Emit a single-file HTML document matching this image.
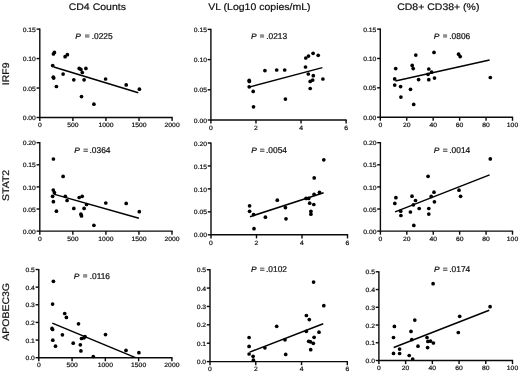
<!DOCTYPE html><html><head><meta charset="utf-8"><style>html,body{margin:0;padding:0;background:#fff;}svg{display:block;will-change:transform;filter:blur(0.3px);}text{font-family:"Liberation Sans", sans-serif;text-rendering:geometricPrecision;stroke:#111;stroke-width:0.22px;}</style></head><body>
<svg width="520" height="373" viewBox="0 0 520 373">
<rect width="520" height="373" fill="#fff"/>
<path d="M39.8 28.5V117.5H172.7" fill="none" stroke="#0a0a0a" stroke-width="1.4"/>
<path d="M36.6 29.1H39.8" stroke="#0a0a0a" stroke-width="1.4"/>
<text transform="translate(35.9 31.7) scale(1 0.92)" font-size="6.8" text-anchor="end" fill="#111">0.15</text>
<path d="M36.6 58.57H39.8" stroke="#0a0a0a" stroke-width="1.4"/>
<text transform="translate(35.9 61.17) scale(1 0.92)" font-size="6.8" text-anchor="end" fill="#111">0.10</text>
<path d="M36.6 88.03H39.8" stroke="#0a0a0a" stroke-width="1.4"/>
<text transform="translate(35.9 90.63) scale(1 0.92)" font-size="6.8" text-anchor="end" fill="#111">0.05</text>
<path d="M36.6 117.5H39.8" stroke="#0a0a0a" stroke-width="1.4"/>
<text transform="translate(35.9 120.1) scale(1 0.92)" font-size="6.8" text-anchor="end" fill="#111">0.00</text>
<path d="M39.8 117.5V121.1" stroke="#0a0a0a" stroke-width="1.4"/>
<text transform="translate(39.8 127.2) scale(1 0.92)" font-size="6.8" text-anchor="middle" fill="#111">0</text>
<path d="M72.88 117.5V121.1" stroke="#0a0a0a" stroke-width="1.4"/>
<text transform="translate(72.88 127.2) scale(1 0.92)" font-size="6.8" text-anchor="middle" fill="#111">500</text>
<path d="M105.95 117.5V121.1" stroke="#0a0a0a" stroke-width="1.4"/>
<text transform="translate(105.95 127.2) scale(1 0.92)" font-size="6.8" text-anchor="middle" fill="#111">1000</text>
<path d="M139.03 117.5V121.1" stroke="#0a0a0a" stroke-width="1.4"/>
<text transform="translate(139.03 127.2) scale(1 0.92)" font-size="6.8" text-anchor="middle" fill="#111">1500</text>
<path d="M172.1 117.5V121.1" stroke="#0a0a0a" stroke-width="1.4"/>
<text transform="translate(172.1 127.2) scale(1 0.92)" font-size="6.8" text-anchor="middle" fill="#111">2000</text>
<circle cx="53.4" cy="54" r="1.85"/>
<circle cx="54.4" cy="52.4" r="1.85"/>
<circle cx="65.1" cy="56.7" r="1.85"/>
<circle cx="67.4" cy="54.7" r="1.85"/>
<circle cx="52.7" cy="65.6" r="1.85"/>
<circle cx="53.3" cy="77.2" r="1.85"/>
<circle cx="53.7" cy="78.1" r="1.85"/>
<circle cx="63.1" cy="74.1" r="1.85"/>
<circle cx="56.4" cy="86.5" r="1.85"/>
<circle cx="73.8" cy="79.8" r="1.85"/>
<circle cx="79.2" cy="68.4" r="1.85"/>
<circle cx="80.9" cy="69.4" r="1.85"/>
<circle cx="82.3" cy="72.5" r="1.85"/>
<circle cx="85.9" cy="68.4" r="1.85"/>
<circle cx="84.1" cy="79.8" r="1.85"/>
<circle cx="81.5" cy="96.6" r="1.85"/>
<circle cx="93.9" cy="104.2" r="1.85"/>
<circle cx="105.6" cy="79" r="1.85"/>
<circle cx="126.2" cy="84.9" r="1.85"/>
<circle cx="139.4" cy="89.2" r="1.85"/>
<path d="M53.8 67L138.3 92.8" stroke="#000" stroke-width="1.5"/>
<path d="M210.9 28.8V120H346.7" fill="none" stroke="#0a0a0a" stroke-width="1.4"/>
<path d="M207.7 29.4H210.9" stroke="#0a0a0a" stroke-width="1.4"/>
<text transform="translate(207 32) scale(1 0.92)" font-size="6.8" text-anchor="end" fill="#111">0.15</text>
<path d="M207.7 59.6H210.9" stroke="#0a0a0a" stroke-width="1.4"/>
<text transform="translate(207 62.2) scale(1 0.92)" font-size="6.8" text-anchor="end" fill="#111">0.10</text>
<path d="M207.7 89.8H210.9" stroke="#0a0a0a" stroke-width="1.4"/>
<text transform="translate(207 92.4) scale(1 0.92)" font-size="6.8" text-anchor="end" fill="#111">0.05</text>
<path d="M207.7 120H210.9" stroke="#0a0a0a" stroke-width="1.4"/>
<text transform="translate(207 122.6) scale(1 0.92)" font-size="6.8" text-anchor="end" fill="#111">0.00</text>
<path d="M210.9 120V123.6" stroke="#0a0a0a" stroke-width="1.4"/>
<text transform="translate(210.9 129.7) scale(1 0.92)" font-size="6.8" text-anchor="middle" fill="#111">0</text>
<path d="M255.97 120V123.6" stroke="#0a0a0a" stroke-width="1.4"/>
<text transform="translate(255.97 129.7) scale(1 0.92)" font-size="6.8" text-anchor="middle" fill="#111">2</text>
<path d="M301.03 120V123.6" stroke="#0a0a0a" stroke-width="1.4"/>
<text transform="translate(301.03 129.7) scale(1 0.92)" font-size="6.8" text-anchor="middle" fill="#111">4</text>
<path d="M346.1 120V123.6" stroke="#0a0a0a" stroke-width="1.4"/>
<text transform="translate(346.1 129.7) scale(1 0.92)" font-size="6.8" text-anchor="middle" fill="#111">6</text>
<circle cx="249.2" cy="80.3" r="1.85"/>
<circle cx="249.3" cy="81.5" r="1.85"/>
<circle cx="249.2" cy="86.8" r="1.85"/>
<circle cx="253.2" cy="91.4" r="1.85"/>
<circle cx="264.9" cy="70.6" r="1.85"/>
<circle cx="276.7" cy="70" r="1.85"/>
<circle cx="284.7" cy="70" r="1.85"/>
<circle cx="285.4" cy="99.1" r="1.85"/>
<circle cx="253.5" cy="106.8" r="1.85"/>
<circle cx="305.8" cy="58" r="1.85"/>
<circle cx="308.5" cy="56.1" r="1.85"/>
<circle cx="313.1" cy="53.3" r="1.85"/>
<circle cx="318.2" cy="55.3" r="1.85"/>
<circle cx="305.5" cy="67" r="1.85"/>
<circle cx="308.3" cy="74" r="1.85"/>
<circle cx="313.3" cy="75.7" r="1.85"/>
<circle cx="310.2" cy="81.4" r="1.85"/>
<circle cx="312.7" cy="80.1" r="1.85"/>
<circle cx="322.9" cy="79" r="1.85"/>
<circle cx="310.2" cy="88.5" r="1.85"/>
<path d="M249.2 87.1L322.4 67.6" stroke="#000" stroke-width="1.5"/>
<path d="M380.3 28.5V117.2H513.1" fill="none" stroke="#0a0a0a" stroke-width="1.4"/>
<path d="M377.1 29.1H380.3" stroke="#0a0a0a" stroke-width="1.4"/>
<text transform="translate(376.4 31.7) scale(1 0.92)" font-size="6.8" text-anchor="end" fill="#111">0.15</text>
<path d="M377.1 58.47H380.3" stroke="#0a0a0a" stroke-width="1.4"/>
<text transform="translate(376.4 61.07) scale(1 0.92)" font-size="6.8" text-anchor="end" fill="#111">0.10</text>
<path d="M377.1 87.83H380.3" stroke="#0a0a0a" stroke-width="1.4"/>
<text transform="translate(376.4 90.43) scale(1 0.92)" font-size="6.8" text-anchor="end" fill="#111">0.05</text>
<path d="M377.1 117.2H380.3" stroke="#0a0a0a" stroke-width="1.4"/>
<text transform="translate(376.4 119.8) scale(1 0.92)" font-size="6.8" text-anchor="end" fill="#111">0.00</text>
<path d="M380.3 117.2V120.8" stroke="#0a0a0a" stroke-width="1.4"/>
<text transform="translate(380.3 126.9) scale(1 0.92)" font-size="6.8" text-anchor="middle" fill="#111">0</text>
<path d="M406.74 117.2V120.8" stroke="#0a0a0a" stroke-width="1.4"/>
<text transform="translate(406.74 126.9) scale(1 0.92)" font-size="6.8" text-anchor="middle" fill="#111">20</text>
<path d="M433.18 117.2V120.8" stroke="#0a0a0a" stroke-width="1.4"/>
<text transform="translate(433.18 126.9) scale(1 0.92)" font-size="6.8" text-anchor="middle" fill="#111">40</text>
<path d="M459.62 117.2V120.8" stroke="#0a0a0a" stroke-width="1.4"/>
<text transform="translate(459.62 126.9) scale(1 0.92)" font-size="6.8" text-anchor="middle" fill="#111">60</text>
<path d="M486.06 117.2V120.8" stroke="#0a0a0a" stroke-width="1.4"/>
<text transform="translate(486.06 126.9) scale(1 0.92)" font-size="6.8" text-anchor="middle" fill="#111">80</text>
<path d="M512.5 117.2V120.8" stroke="#0a0a0a" stroke-width="1.4"/>
<text transform="translate(512.5 126.9) scale(1 0.92)" font-size="6.8" text-anchor="middle" fill="#111">100</text>
<circle cx="415.8" cy="55.1" r="1.85"/>
<circle cx="434" cy="52.4" r="1.85"/>
<circle cx="395.7" cy="68.6" r="1.85"/>
<circle cx="412.2" cy="65.4" r="1.85"/>
<circle cx="413.2" cy="68.6" r="1.85"/>
<circle cx="394.7" cy="78.9" r="1.85"/>
<circle cx="418.6" cy="79.6" r="1.85"/>
<circle cx="394.7" cy="85.1" r="1.85"/>
<circle cx="400.6" cy="86.6" r="1.85"/>
<circle cx="410.5" cy="89.3" r="1.85"/>
<circle cx="400.9" cy="97.1" r="1.85"/>
<circle cx="413.7" cy="104.4" r="1.85"/>
<circle cx="458.6" cy="54.2" r="1.85"/>
<circle cx="460.2" cy="56.6" r="1.85"/>
<circle cx="428.8" cy="69" r="1.85"/>
<circle cx="431.6" cy="72.2" r="1.85"/>
<circle cx="428" cy="74.3" r="1.85"/>
<circle cx="428.8" cy="79.7" r="1.85"/>
<circle cx="434.5" cy="78.1" r="1.85"/>
<circle cx="490.3" cy="77.5" r="1.85"/>
<path d="M395.4 80.9L489.6 59.9" stroke="#000" stroke-width="1.5"/>
<path d="M39.8 142.1V231.1H172.6" fill="none" stroke="#0a0a0a" stroke-width="1.4"/>
<path d="M36.6 142.7H39.8" stroke="#0a0a0a" stroke-width="1.4"/>
<text transform="translate(35.9 145.3) scale(1 0.92)" font-size="6.8" text-anchor="end" fill="#111">0.20</text>
<path d="M36.6 164.8H39.8" stroke="#0a0a0a" stroke-width="1.4"/>
<text transform="translate(35.9 167.4) scale(1 0.92)" font-size="6.8" text-anchor="end" fill="#111">0.15</text>
<path d="M36.6 186.9H39.8" stroke="#0a0a0a" stroke-width="1.4"/>
<text transform="translate(35.9 189.5) scale(1 0.92)" font-size="6.8" text-anchor="end" fill="#111">0.10</text>
<path d="M36.6 209H39.8" stroke="#0a0a0a" stroke-width="1.4"/>
<text transform="translate(35.9 211.6) scale(1 0.92)" font-size="6.8" text-anchor="end" fill="#111">0.05</text>
<path d="M36.6 231.1H39.8" stroke="#0a0a0a" stroke-width="1.4"/>
<text transform="translate(35.9 233.7) scale(1 0.92)" font-size="6.8" text-anchor="end" fill="#111">0.00</text>
<path d="M39.8 231.1V234.7" stroke="#0a0a0a" stroke-width="1.4"/>
<text transform="translate(39.8 240.8) scale(1 0.92)" font-size="6.8" text-anchor="middle" fill="#111">0</text>
<path d="M72.85 231.1V234.7" stroke="#0a0a0a" stroke-width="1.4"/>
<text transform="translate(72.85 240.8) scale(1 0.92)" font-size="6.8" text-anchor="middle" fill="#111">500</text>
<path d="M105.9 231.1V234.7" stroke="#0a0a0a" stroke-width="1.4"/>
<text transform="translate(105.9 240.8) scale(1 0.92)" font-size="6.8" text-anchor="middle" fill="#111">1000</text>
<path d="M138.95 231.1V234.7" stroke="#0a0a0a" stroke-width="1.4"/>
<text transform="translate(138.95 240.8) scale(1 0.92)" font-size="6.8" text-anchor="middle" fill="#111">1500</text>
<path d="M172 231.1V234.7" stroke="#0a0a0a" stroke-width="1.4"/>
<text transform="translate(172 240.8) scale(1 0.92)" font-size="6.8" text-anchor="middle" fill="#111">2000</text>
<circle cx="53.4" cy="159" r="1.85"/>
<circle cx="63.1" cy="176.4" r="1.85"/>
<circle cx="53.3" cy="190.1" r="1.85"/>
<circle cx="54.4" cy="192.5" r="1.85"/>
<circle cx="52.6" cy="196.3" r="1.85"/>
<circle cx="53.4" cy="201.7" r="1.85"/>
<circle cx="65.3" cy="196.3" r="1.85"/>
<circle cx="67.1" cy="200.5" r="1.85"/>
<circle cx="79.2" cy="197.5" r="1.85"/>
<circle cx="82.2" cy="196.3" r="1.85"/>
<circle cx="86.6" cy="204.5" r="1.85"/>
<circle cx="84.1" cy="208.4" r="1.85"/>
<circle cx="73.8" cy="208.4" r="1.85"/>
<circle cx="56.4" cy="211.2" r="1.85"/>
<circle cx="80.9" cy="214.2" r="1.85"/>
<circle cx="81.5" cy="215.9" r="1.85"/>
<circle cx="93.9" cy="225.3" r="1.85"/>
<circle cx="105.8" cy="203" r="1.85"/>
<circle cx="126.2" cy="203.4" r="1.85"/>
<circle cx="139.3" cy="211.7" r="1.85"/>
<path d="M53.7 194.1L138.9 218.2" stroke="#000" stroke-width="1.5"/>
<path d="M211 142.4V234.8H348.1" fill="none" stroke="#0a0a0a" stroke-width="1.4"/>
<path d="M207.8 143H211" stroke="#0a0a0a" stroke-width="1.4"/>
<text transform="translate(207.1 145.6) scale(1 0.92)" font-size="6.8" text-anchor="end" fill="#111">0.20</text>
<path d="M207.8 165.95H211" stroke="#0a0a0a" stroke-width="1.4"/>
<text transform="translate(207.1 168.55) scale(1 0.92)" font-size="6.8" text-anchor="end" fill="#111">0.15</text>
<path d="M207.8 188.9H211" stroke="#0a0a0a" stroke-width="1.4"/>
<text transform="translate(207.1 191.5) scale(1 0.92)" font-size="6.8" text-anchor="end" fill="#111">0.10</text>
<path d="M207.8 211.85H211" stroke="#0a0a0a" stroke-width="1.4"/>
<text transform="translate(207.1 214.45) scale(1 0.92)" font-size="6.8" text-anchor="end" fill="#111">0.05</text>
<path d="M207.8 234.8H211" stroke="#0a0a0a" stroke-width="1.4"/>
<text transform="translate(207.1 237.4) scale(1 0.92)" font-size="6.8" text-anchor="end" fill="#111">0.00</text>
<path d="M211 234.8V238.4" stroke="#0a0a0a" stroke-width="1.4"/>
<text transform="translate(211 244.5) scale(1 0.92)" font-size="6.8" text-anchor="middle" fill="#111">0</text>
<path d="M256.5 234.8V238.4" stroke="#0a0a0a" stroke-width="1.4"/>
<text transform="translate(256.5 244.5) scale(1 0.92)" font-size="6.8" text-anchor="middle" fill="#111">2</text>
<path d="M302 234.8V238.4" stroke="#0a0a0a" stroke-width="1.4"/>
<text transform="translate(302 244.5) scale(1 0.92)" font-size="6.8" text-anchor="middle" fill="#111">4</text>
<path d="M347.5 234.8V238.4" stroke="#0a0a0a" stroke-width="1.4"/>
<text transform="translate(347.5 244.5) scale(1 0.92)" font-size="6.8" text-anchor="middle" fill="#111">6</text>
<circle cx="249.6" cy="205.8" r="1.85"/>
<circle cx="249.6" cy="211.3" r="1.85"/>
<circle cx="253.6" cy="214.6" r="1.85"/>
<circle cx="265.4" cy="217.2" r="1.85"/>
<circle cx="277.3" cy="200.2" r="1.85"/>
<circle cx="285.4" cy="207.6" r="1.85"/>
<circle cx="286" cy="218.8" r="1.85"/>
<circle cx="254" cy="228.7" r="1.85"/>
<circle cx="323.8" cy="159.8" r="1.85"/>
<circle cx="314.2" cy="177.9" r="1.85"/>
<circle cx="319.5" cy="192.3" r="1.85"/>
<circle cx="314.1" cy="194.4" r="1.85"/>
<circle cx="306" cy="198.4" r="1.85"/>
<circle cx="308.7" cy="198.4" r="1.85"/>
<circle cx="309.7" cy="203.2" r="1.85"/>
<circle cx="313.8" cy="204.5" r="1.85"/>
<circle cx="310.9" cy="211.3" r="1.85"/>
<circle cx="310.9" cy="214.2" r="1.85"/>
<path d="M250 216.7L323.6 192.7" stroke="#000" stroke-width="1.5"/>
<path d="M380.4 142.1V231.1H513.1" fill="none" stroke="#0a0a0a" stroke-width="1.4"/>
<path d="M377.2 142.7H380.4" stroke="#0a0a0a" stroke-width="1.4"/>
<text transform="translate(376.5 145.3) scale(1 0.92)" font-size="6.8" text-anchor="end" fill="#111">0.20</text>
<path d="M377.2 164.8H380.4" stroke="#0a0a0a" stroke-width="1.4"/>
<text transform="translate(376.5 167.4) scale(1 0.92)" font-size="6.8" text-anchor="end" fill="#111">0.15</text>
<path d="M377.2 186.9H380.4" stroke="#0a0a0a" stroke-width="1.4"/>
<text transform="translate(376.5 189.5) scale(1 0.92)" font-size="6.8" text-anchor="end" fill="#111">0.10</text>
<path d="M377.2 209H380.4" stroke="#0a0a0a" stroke-width="1.4"/>
<text transform="translate(376.5 211.6) scale(1 0.92)" font-size="6.8" text-anchor="end" fill="#111">0.05</text>
<path d="M377.2 231.1H380.4" stroke="#0a0a0a" stroke-width="1.4"/>
<text transform="translate(376.5 233.7) scale(1 0.92)" font-size="6.8" text-anchor="end" fill="#111">0.00</text>
<path d="M380.4 231.1V234.7" stroke="#0a0a0a" stroke-width="1.4"/>
<text transform="translate(380.4 240.8) scale(1 0.92)" font-size="6.8" text-anchor="middle" fill="#111">0</text>
<path d="M406.82 231.1V234.7" stroke="#0a0a0a" stroke-width="1.4"/>
<text transform="translate(406.82 240.8) scale(1 0.92)" font-size="6.8" text-anchor="middle" fill="#111">20</text>
<path d="M433.24 231.1V234.7" stroke="#0a0a0a" stroke-width="1.4"/>
<text transform="translate(433.24 240.8) scale(1 0.92)" font-size="6.8" text-anchor="middle" fill="#111">40</text>
<path d="M459.66 231.1V234.7" stroke="#0a0a0a" stroke-width="1.4"/>
<text transform="translate(459.66 240.8) scale(1 0.92)" font-size="6.8" text-anchor="middle" fill="#111">60</text>
<path d="M486.08 231.1V234.7" stroke="#0a0a0a" stroke-width="1.4"/>
<text transform="translate(486.08 240.8) scale(1 0.92)" font-size="6.8" text-anchor="middle" fill="#111">80</text>
<path d="M512.5 231.1V234.7" stroke="#0a0a0a" stroke-width="1.4"/>
<text transform="translate(512.5 240.8) scale(1 0.92)" font-size="6.8" text-anchor="middle" fill="#111">100</text>
<circle cx="428.1" cy="176.3" r="1.85"/>
<circle cx="395.9" cy="197.7" r="1.85"/>
<circle cx="394.8" cy="203.4" r="1.85"/>
<circle cx="412" cy="196.2" r="1.85"/>
<circle cx="415.5" cy="200.5" r="1.85"/>
<circle cx="413.4" cy="204.8" r="1.85"/>
<circle cx="419.2" cy="208.5" r="1.85"/>
<circle cx="410.4" cy="212" r="1.85"/>
<circle cx="400.7" cy="211.2" r="1.85"/>
<circle cx="400.9" cy="215.5" r="1.85"/>
<circle cx="428.8" cy="208.5" r="1.85"/>
<circle cx="428.8" cy="214.1" r="1.85"/>
<circle cx="434" cy="192.2" r="1.85"/>
<circle cx="431.2" cy="196.4" r="1.85"/>
<circle cx="434.4" cy="201.8" r="1.85"/>
<circle cx="413.8" cy="225.4" r="1.85"/>
<circle cx="490.3" cy="158.9" r="1.85"/>
<circle cx="459" cy="190.2" r="1.85"/>
<circle cx="460.6" cy="196.3" r="1.85"/>
<path d="M395.1 211.9L489.6 174.9" stroke="#000" stroke-width="1.5"/>
<path d="M38.8 268.9V357.7H172.5" fill="none" stroke="#0a0a0a" stroke-width="1.4"/>
<path d="M35.6 269.5H38.8" stroke="#0a0a0a" stroke-width="1.4"/>
<text transform="translate(34.9 272.1) scale(1 0.92)" font-size="6.8" text-anchor="end" fill="#111">0.5</text>
<path d="M35.6 287.14H38.8" stroke="#0a0a0a" stroke-width="1.4"/>
<text transform="translate(34.9 289.74) scale(1 0.92)" font-size="6.8" text-anchor="end" fill="#111">0.4</text>
<path d="M35.6 304.78H38.8" stroke="#0a0a0a" stroke-width="1.4"/>
<text transform="translate(34.9 307.38) scale(1 0.92)" font-size="6.8" text-anchor="end" fill="#111">0.3</text>
<path d="M35.6 322.42H38.8" stroke="#0a0a0a" stroke-width="1.4"/>
<text transform="translate(34.9 325.02) scale(1 0.92)" font-size="6.8" text-anchor="end" fill="#111">0.2</text>
<path d="M35.6 340.06H38.8" stroke="#0a0a0a" stroke-width="1.4"/>
<text transform="translate(34.9 342.66) scale(1 0.92)" font-size="6.8" text-anchor="end" fill="#111">0.1</text>
<path d="M35.6 357.7H38.8" stroke="#0a0a0a" stroke-width="1.4"/>
<text transform="translate(34.9 360.3) scale(1 0.92)" font-size="6.8" text-anchor="end" fill="#111">0.0</text>
<path d="M38.8 357.7V361.3" stroke="#0a0a0a" stroke-width="1.4"/>
<text transform="translate(38.8 367.4) scale(1 0.92)" font-size="6.8" text-anchor="middle" fill="#111">0</text>
<path d="M72.08 357.7V361.3" stroke="#0a0a0a" stroke-width="1.4"/>
<text transform="translate(72.08 367.4) scale(1 0.92)" font-size="6.8" text-anchor="middle" fill="#111">500</text>
<path d="M105.35 357.7V361.3" stroke="#0a0a0a" stroke-width="1.4"/>
<text transform="translate(105.35 367.4) scale(1 0.92)" font-size="6.8" text-anchor="middle" fill="#111">1000</text>
<path d="M138.62 357.7V361.3" stroke="#0a0a0a" stroke-width="1.4"/>
<text transform="translate(138.62 367.4) scale(1 0.92)" font-size="6.8" text-anchor="middle" fill="#111">1500</text>
<path d="M171.9 357.7V361.3" stroke="#0a0a0a" stroke-width="1.4"/>
<text transform="translate(171.9 367.4) scale(1 0.92)" font-size="6.8" text-anchor="middle" fill="#111">2000</text>
<circle cx="53.4" cy="281.3" r="1.85"/>
<circle cx="52.6" cy="304.1" r="1.85"/>
<circle cx="64.7" cy="313.5" r="1.85"/>
<circle cx="66.4" cy="317.4" r="1.85"/>
<circle cx="78.5" cy="323.8" r="1.85"/>
<circle cx="52" cy="328.4" r="1.85"/>
<circle cx="52.6" cy="329.5" r="1.85"/>
<circle cx="62.4" cy="334.8" r="1.85"/>
<circle cx="52.8" cy="340.2" r="1.85"/>
<circle cx="55.5" cy="346.2" r="1.85"/>
<circle cx="73.2" cy="343.2" r="1.85"/>
<circle cx="81.5" cy="338.5" r="1.85"/>
<circle cx="83.9" cy="337.8" r="1.85"/>
<circle cx="85" cy="336.7" r="1.85"/>
<circle cx="80.3" cy="344.8" r="1.85"/>
<circle cx="80.9" cy="350.9" r="1.85"/>
<circle cx="93.3" cy="356.5" r="1.85"/>
<circle cx="105.5" cy="334.6" r="1.85"/>
<circle cx="126" cy="350.4" r="1.85"/>
<circle cx="138.9" cy="352.7" r="1.85"/>
<path d="M52.3 323.1L135.5 357.6" stroke="#000" stroke-width="1.5"/>
<path d="M210 269.1V361.6H347.9" fill="none" stroke="#0a0a0a" stroke-width="1.4"/>
<path d="M206.8 269.7H210" stroke="#0a0a0a" stroke-width="1.4"/>
<text transform="translate(206.1 272.3) scale(1 0.92)" font-size="6.8" text-anchor="end" fill="#111">0.5</text>
<path d="M206.8 288.08H210" stroke="#0a0a0a" stroke-width="1.4"/>
<text transform="translate(206.1 290.68) scale(1 0.92)" font-size="6.8" text-anchor="end" fill="#111">0.4</text>
<path d="M206.8 306.46H210" stroke="#0a0a0a" stroke-width="1.4"/>
<text transform="translate(206.1 309.06) scale(1 0.92)" font-size="6.8" text-anchor="end" fill="#111">0.3</text>
<path d="M206.8 324.84H210" stroke="#0a0a0a" stroke-width="1.4"/>
<text transform="translate(206.1 327.44) scale(1 0.92)" font-size="6.8" text-anchor="end" fill="#111">0.2</text>
<path d="M206.8 343.22H210" stroke="#0a0a0a" stroke-width="1.4"/>
<text transform="translate(206.1 345.82) scale(1 0.92)" font-size="6.8" text-anchor="end" fill="#111">0.1</text>
<path d="M206.8 361.6H210" stroke="#0a0a0a" stroke-width="1.4"/>
<text transform="translate(206.1 364.2) scale(1 0.92)" font-size="6.8" text-anchor="end" fill="#111">0.0</text>
<path d="M210 361.6V365.2" stroke="#0a0a0a" stroke-width="1.4"/>
<text transform="translate(210 371.3) scale(1 0.92)" font-size="6.8" text-anchor="middle" fill="#111">0</text>
<path d="M255.77 361.6V365.2" stroke="#0a0a0a" stroke-width="1.4"/>
<text transform="translate(255.77 371.3) scale(1 0.92)" font-size="6.8" text-anchor="middle" fill="#111">2</text>
<path d="M301.53 361.6V365.2" stroke="#0a0a0a" stroke-width="1.4"/>
<text transform="translate(301.53 371.3) scale(1 0.92)" font-size="6.8" text-anchor="middle" fill="#111">4</text>
<path d="M347.3 361.6V365.2" stroke="#0a0a0a" stroke-width="1.4"/>
<text transform="translate(347.3 371.3) scale(1 0.92)" font-size="6.8" text-anchor="middle" fill="#111">6</text>
<circle cx="276.7" cy="326.3" r="1.85"/>
<circle cx="249.1" cy="337.5" r="1.85"/>
<circle cx="249.1" cy="346.4" r="1.85"/>
<circle cx="249.1" cy="354" r="1.85"/>
<circle cx="253.1" cy="356.3" r="1.85"/>
<circle cx="253.4" cy="360.2" r="1.85"/>
<circle cx="264.9" cy="347.8" r="1.85"/>
<circle cx="285" cy="339.8" r="1.85"/>
<circle cx="285.7" cy="354.4" r="1.85"/>
<circle cx="313.6" cy="282.1" r="1.85"/>
<circle cx="323.8" cy="305.7" r="1.85"/>
<circle cx="306.4" cy="315.5" r="1.85"/>
<circle cx="309.3" cy="319.6" r="1.85"/>
<circle cx="306.3" cy="331.3" r="1.85"/>
<circle cx="319" cy="332.2" r="1.85"/>
<circle cx="314.1" cy="337.3" r="1.85"/>
<circle cx="308.7" cy="341.3" r="1.85"/>
<circle cx="310.5" cy="341.8" r="1.85"/>
<circle cx="313.3" cy="343.3" r="1.85"/>
<circle cx="310.7" cy="349.7" r="1.85"/>
<path d="M249.7 352.1L323.2 323.7" stroke="#000" stroke-width="1.5"/>
<path d="M378.9 271.2V360.5H513.1" fill="none" stroke="#0a0a0a" stroke-width="1.4"/>
<path d="M375.7 271.8H378.9" stroke="#0a0a0a" stroke-width="1.4"/>
<text transform="translate(375 274.4) scale(1 0.92)" font-size="6.8" text-anchor="end" fill="#111">0.5</text>
<path d="M375.7 289.54H378.9" stroke="#0a0a0a" stroke-width="1.4"/>
<text transform="translate(375 292.14) scale(1 0.92)" font-size="6.8" text-anchor="end" fill="#111">0.4</text>
<path d="M375.7 307.28H378.9" stroke="#0a0a0a" stroke-width="1.4"/>
<text transform="translate(375 309.88) scale(1 0.92)" font-size="6.8" text-anchor="end" fill="#111">0.3</text>
<path d="M375.7 325.02H378.9" stroke="#0a0a0a" stroke-width="1.4"/>
<text transform="translate(375 327.62) scale(1 0.92)" font-size="6.8" text-anchor="end" fill="#111">0.2</text>
<path d="M375.7 342.76H378.9" stroke="#0a0a0a" stroke-width="1.4"/>
<text transform="translate(375 345.36) scale(1 0.92)" font-size="6.8" text-anchor="end" fill="#111">0.1</text>
<path d="M375.7 360.5H378.9" stroke="#0a0a0a" stroke-width="1.4"/>
<text transform="translate(375 363.1) scale(1 0.92)" font-size="6.8" text-anchor="end" fill="#111">0.0</text>
<path d="M378.9 360.5V364.1" stroke="#0a0a0a" stroke-width="1.4"/>
<text transform="translate(378.9 370.2) scale(1 0.92)" font-size="6.8" text-anchor="middle" fill="#111">0</text>
<path d="M405.62 360.5V364.1" stroke="#0a0a0a" stroke-width="1.4"/>
<text transform="translate(405.62 370.2) scale(1 0.92)" font-size="6.8" text-anchor="middle" fill="#111">20</text>
<path d="M432.34 360.5V364.1" stroke="#0a0a0a" stroke-width="1.4"/>
<text transform="translate(432.34 370.2) scale(1 0.92)" font-size="6.8" text-anchor="middle" fill="#111">40</text>
<path d="M459.06 360.5V364.1" stroke="#0a0a0a" stroke-width="1.4"/>
<text transform="translate(459.06 370.2) scale(1 0.92)" font-size="6.8" text-anchor="middle" fill="#111">60</text>
<path d="M485.78 360.5V364.1" stroke="#0a0a0a" stroke-width="1.4"/>
<text transform="translate(485.78 370.2) scale(1 0.92)" font-size="6.8" text-anchor="middle" fill="#111">80</text>
<path d="M512.5 360.5V364.1" stroke="#0a0a0a" stroke-width="1.4"/>
<text transform="translate(512.5 370.2) scale(1 0.92)" font-size="6.8" text-anchor="middle" fill="#111">100</text>
<circle cx="414.8" cy="320.1" r="1.85"/>
<circle cx="394.4" cy="326.4" r="1.85"/>
<circle cx="411" cy="331.4" r="1.85"/>
<circle cx="393.5" cy="337.5" r="1.85"/>
<circle cx="411.8" cy="339.6" r="1.85"/>
<circle cx="427" cy="337.5" r="1.85"/>
<circle cx="427.9" cy="341.4" r="1.85"/>
<circle cx="430.5" cy="341.2" r="1.85"/>
<circle cx="433.4" cy="343" r="1.85"/>
<circle cx="418" cy="346.2" r="1.85"/>
<circle cx="427.6" cy="347.6" r="1.85"/>
<circle cx="399.6" cy="349.1" r="1.85"/>
<circle cx="393.5" cy="353.4" r="1.85"/>
<circle cx="399.6" cy="353.5" r="1.85"/>
<circle cx="409.2" cy="355.5" r="1.85"/>
<circle cx="412.7" cy="359" r="1.85"/>
<circle cx="433.1" cy="283.7" r="1.85"/>
<circle cx="490.1" cy="306.7" r="1.85"/>
<circle cx="459.7" cy="316.3" r="1.85"/>
<circle cx="458.3" cy="332.5" r="1.85"/>
<path d="M393.7 347.5L489.2 310.2" stroke="#000" stroke-width="1.5"/>
<text transform="translate(97.3 9.5) scale(1 0.91)" font-size="10.5" text-anchor="middle" fill="#111">CD4 Counts</text>
<text transform="translate(259.4 9.5) scale(1 0.91)" font-size="10.5" text-anchor="middle" fill="#111">VL (Log10 copies/mL)</text>
<text transform="translate(438.3 9.5) scale(1 0.91)" font-size="10.5" text-anchor="middle" fill="#111">CD8+ CD38+ (%)</text>
<text transform="translate(9.3 73.8) rotate(-90) scale(1 0.91)" font-size="10.5" text-anchor="middle" fill="#111">IRF9</text>
<text transform="translate(9.3 185.4) rotate(-90) scale(1 0.91)" font-size="10.5" text-anchor="middle" fill="#111">STAT2</text>
<text transform="translate(9.3 311.9) rotate(-90) scale(1 0.91)" font-size="10.5" text-anchor="middle" fill="#111">APOBEC3G</text>
<text transform="translate(75.15 38.6) scale(1 0.92)" font-size="8.4" font-style="italic" fill="#111">P</text>
<rect x="85" y="34.3" width="4.4" height="3.4" fill="#8f8f8f"/>
<text x="91.7" y="38.6" font-size="8.4" fill="#111">.0225</text>
<text transform="translate(250.95 38.6) scale(1 0.92)" font-size="8.4" font-style="italic" fill="#111">P</text>
<rect x="259.9" y="34.3" width="4.2" height="3.4" fill="#8f8f8f"/>
<text x="266.2" y="38.6" font-size="8.4" fill="#111">.0213</text>
<text transform="translate(433.85 38.6) scale(1 0.92)" font-size="8.4" font-style="italic" fill="#111">P</text>
<rect x="443.1" y="34.2" width="4" height="3.5" fill="#8f8f8f"/>
<text x="449.3" y="38.6" font-size="8.4" fill="#111">.0806</text>
<text transform="translate(74.25 152.7) scale(1 0.92)" font-size="8.4" font-style="italic" fill="#111">P</text>
<text x="83.13" y="152.7" font-size="8.4" fill="#111">=</text>
<text x="89.5" y="152.7" font-size="8.4" fill="#111">.0364</text>
<text transform="translate(251.25 152.7) scale(1 0.92)" font-size="8.4" font-style="italic" fill="#111">P</text>
<text x="259.63" y="152.7" font-size="8.4" fill="#111">=</text>
<text x="266" y="152.7" font-size="8.4" fill="#111">.0054</text>
<text transform="translate(433.75 152.8) scale(1 0.92)" font-size="8.4" font-style="italic" fill="#111">P</text>
<text x="442.63" y="152.8" font-size="8.4" fill="#111">=</text>
<text x="449.3" y="152.8" font-size="8.4" fill="#111">.0014</text>
<text transform="translate(73.75 278.8) scale(1 0.92)" font-size="8.4" font-style="italic" fill="#111">P</text>
<rect x="83.1" y="274.1" width="4.1" height="3.5" fill="#8f8f8f"/>
<text x="89.7" y="278.8" font-size="8.4" fill="#111">.0116</text>
<text transform="translate(250.95 271.8) scale(1 0.92)" font-size="8.4" font-style="italic" fill="#111">P</text>
<text x="259.83" y="271.8" font-size="8.4" fill="#111">=</text>
<text x="266" y="271.8" font-size="8.4" fill="#111">.0102</text>
<text transform="translate(433.95 272.2) scale(1 0.92)" font-size="8.4" font-style="italic" fill="#111">P</text>
<text x="442.83" y="272.2" font-size="8.4" fill="#111">=</text>
<text x="449.3" y="272.2" font-size="8.4" fill="#111">.0174</text>
</svg></body></html>
